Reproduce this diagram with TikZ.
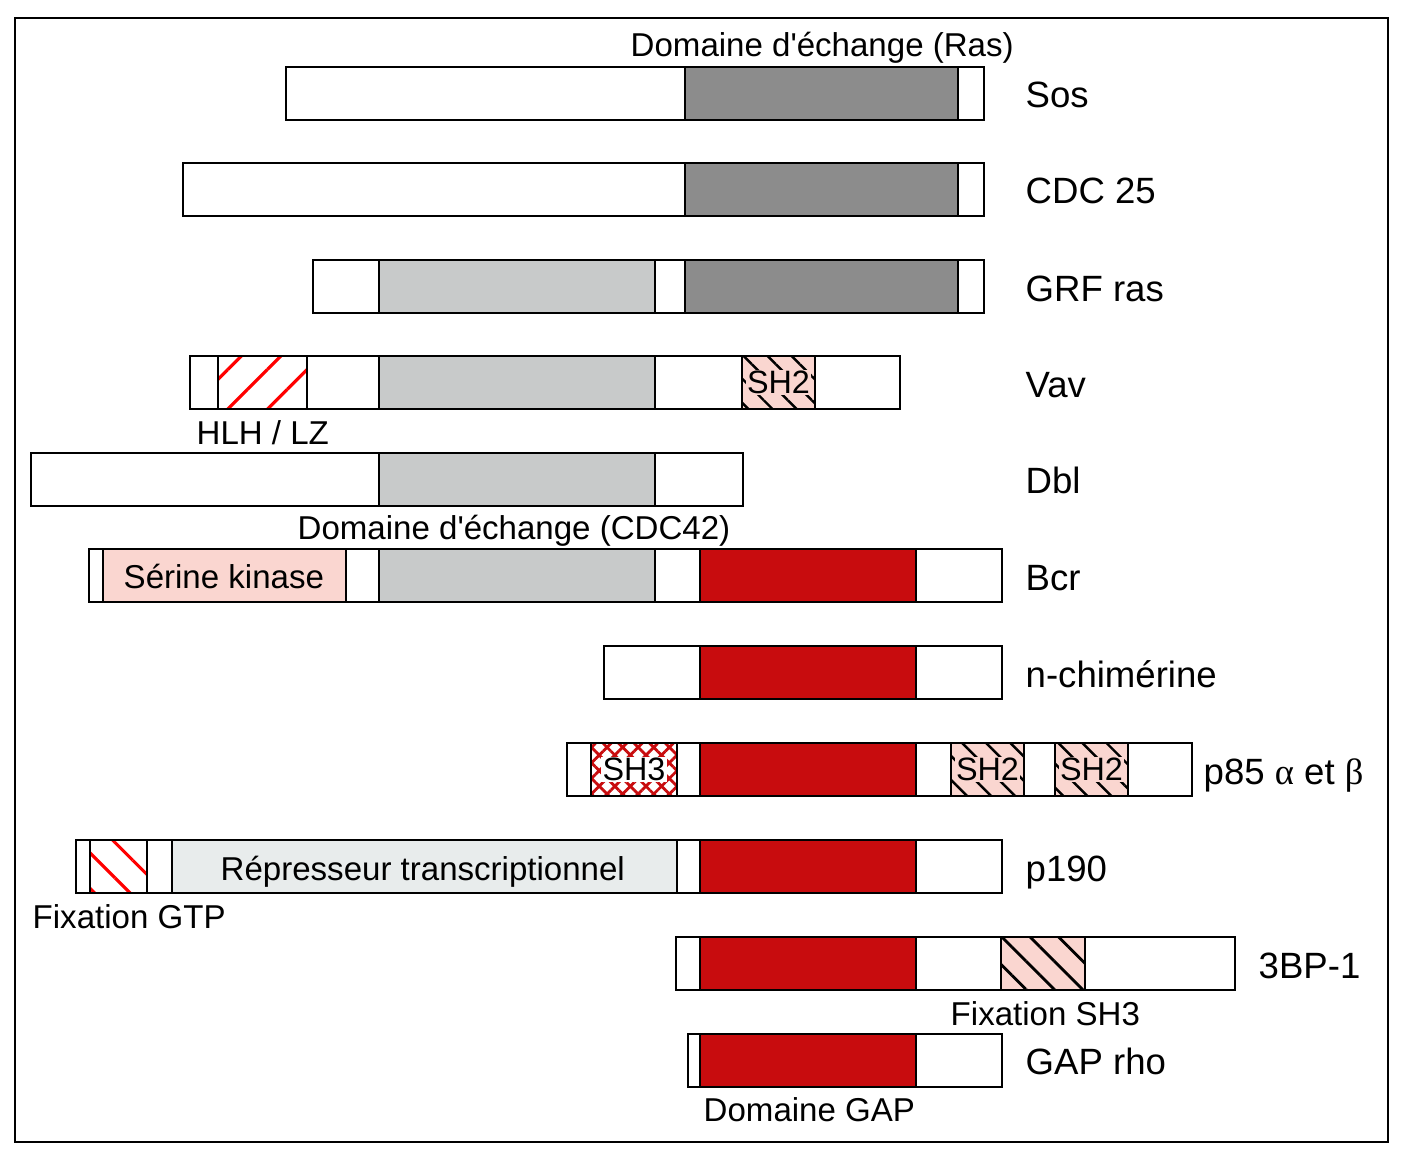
\documentclass[tikz,border=0pt]{standalone}
\usepackage{fontspec}
\setmainfont{Liberation Sans}[Ligatures=TeXOff]
\newfontfamily\greekfont{Liberation Serif}
\usetikzlibrary{patterns.meta,positioning}

\definecolor{gapred}{RGB}{200,12,14}
\definecolor{rasgray}{RGB}{140,140,140}
\definecolor{cdcgray}{RGB}{200,202,202}
\definecolor{replight}{RGB}{232,236,236}
\definecolor{kinpink}{RGB}{250,214,208}

\tikzset{
  seg/.style={draw, line width=0.75pt},
  prot/.style={font=\fontsize{10.4}{12}\selectfont, anchor=base west, inner sep=0pt},
  dom/.style={font=\fontsize{9.4}{11}\selectfont, anchor=base west, inner sep=0pt},
  shbox/.style={font=\fontsize{9.2}{11}\selectfont, inner sep=0.3pt},
  shlines/.style={fill=kinpink,postaction={pattern={Lines[angle=-45,distance=0.17cm,line width=0.7pt]},pattern color=black}},
}

\begin{document}
\begin{tikzpicture}[x=0.01cm,y=-0.01cm]

    \useasboundingbox (0,0) rectangle (1404,1152);
    \draw[line width=0.7pt] (15,18) rectangle (1388,1142);

    % Sos
    \draw[seg] (286,67) rectangle (685,120);
    \draw[seg,fill=rasgray] (685,67) rectangle (958,120);
    \draw[seg] (958,67) rectangle (984,120);
    \node[dom] (ras) at (630,57) {Domaine d'échange (Ras)};
    \node[prot] (sos) at (1025,108) {Sos};

    % CDC 25
    \draw[seg] (183,163) rectangle (685,216);
    \draw[seg,fill=rasgray] (685,163) rectangle (958,216);
    \draw[seg] (958,163) rectangle (984,216);
    \node[prot] (cdc) at (1025,204) {CDC 25};

    % GRF ras
    \draw[seg] (313,260) rectangle (379,313);
    \draw[seg,fill=cdcgray] (379,260) rectangle (655,313);
    \draw[seg] (655,260) rectangle (685,313);
    \draw[seg,fill=rasgray] (685,260) rectangle (958,313);
    \draw[seg] (958,260) rectangle (984,313);
    \node[prot] (grf) at (1025,301) {GRF ras};

    % Vav
    \draw[seg] (190,356) rectangle (218,409);
    \draw[seg,pattern={Lines[angle=45,distance=0.28cm,line width=0.9pt]},pattern color=red] (218,356) rectangle (307,409);
    \draw[seg] (307,356) rectangle (379,409);
    \draw[seg,fill=cdcgray] (379,356) rectangle (655,409);
    \draw[seg] (655,356) rectangle (742,409);
    \draw[seg,shlines] (742,356) rectangle (815,409);
    \node[shbox,fill=kinpink] (vavsh2) at (778.5,382.5) {SH2};
    \draw[seg] (742,356) rectangle (815,409);
    \draw[seg] (815,356) rectangle (900,409);
    \node[dom] (hlh) at (196,444) {HLH / LZ};
    \node[prot] (vav) at (1025,397) {Vav};

    % Dbl
    \draw[seg] (31,453) rectangle (379,506);
    \draw[seg,fill=cdcgray] (379,453) rectangle (655,506);
    \draw[seg] (655,453) rectangle (743,506);
    \node[dom] (cdc42) at (297,539) {Domaine d'échange (CDC42)};
    \node[prot] (dbl) at (1025,493) {Dbl};

    % Bcr
    \draw[seg] (89,549) rectangle (103,602);
    \draw[seg,fill=kinpink] (103,549) rectangle (346,602);
    \node[dom] (kinase) at (123,588) {Sérine kinase};
    \draw[seg] (346,549) rectangle (379,602);
    \draw[seg,fill=cdcgray] (379,549) rectangle (655,602);
    \draw[seg] (655,549) rectangle (700,602);
    \draw[seg,fill=gapred] (700,549) rectangle (916,602);
    \draw[seg] (916,549) rectangle (1002,602);
    \node[prot] (bcr) at (1025,590) {Bcr};

    % n-chimerine
    \draw[seg] (604,646) rectangle (700,699);
    \draw[seg,fill=gapred] (700,646) rectangle (916,699);
    \draw[seg] (916,646) rectangle (1002,699);
    \node[prot] (nchim) at (1025,687) {n-chimérine};

    % p85
    \draw[seg] (567,743) rectangle (591,796);
    \draw[seg,pattern={Hatch[angle=45,distance=0.11cm,line width=0.8pt]},pattern color=gapred] (591,743) rectangle (677,796);
    \node[shbox,fill=white] (sh3) at (634,769.5) {SH3};
    \draw[seg] (591,743) rectangle (677,796);
    \draw[seg] (677,743) rectangle (700,796);
    \draw[seg,fill=gapred] (700,743) rectangle (916,796);
    \draw[seg] (916,743) rectangle (951,796);
    \draw[seg,shlines] (951,743) rectangle (1024,796);
    \node[shbox,fill=kinpink] (psh2a) at (987.5,769.5) {SH2};
    \draw[seg] (951,743) rectangle (1024,796);
    \draw[seg] (1024,743) rectangle (1055,796);
    \draw[seg,shlines] (1055,743) rectangle (1128,796);
    \node[shbox,fill=kinpink] (psh2b) at (1091.5,769.5) {SH2};
    \draw[seg] (1055,743) rectangle (1128,796);
    \draw[seg] (1128,743) rectangle (1192,796);
    \node[prot] (p85) at (1203,784) {p85 {\greekfont α} et {\greekfont β}};

    % p190
    \draw[seg] (76,840) rectangle (90,893);
    \draw[seg,pattern={Lines[angle=-45,distance=0.25cm,line width=0.9pt]},pattern color=red] (90,840) rectangle (147,893);
    \draw[seg] (147,840) rectangle (172,893);
    \draw[seg,fill=replight] (172,840) rectangle (677,893);
    \node[dom] (repr) at (220,880) {Répresseur transcriptionnel};
    \draw[seg] (677,840) rectangle (700,893);
    \draw[seg,fill=gapred] (700,840) rectangle (916,893);
    \draw[seg] (916,840) rectangle (1002,893);
    \node[dom] (gtp) at (32,928) {Fixation GTP};
    \node[prot] (p190) at (1025,881) {p190};

    % 3BP-1
    \draw[seg] (676,937) rectangle (700,990);
    \draw[seg,fill=gapred] (700,937) rectangle (916,990);
    \draw[seg] (916,937) rectangle (1001,990);
    \draw[seg,fill=kinpink,postaction={pattern={Lines[angle=-45,distance=0.2cm,line width=0.8pt]},pattern color=black}] (1001,937) rectangle (1085,990);
    \draw[seg] (1085,937) rectangle (1235,990);
    \node[dom] (fsh3) at (950,1025) {Fixation SH3};
    \node[prot] (tbp) at (1258,978) {3BP-1};

    % GAP rho
    \draw[seg] (688,1034) rectangle (700,1087);
    \draw[seg,fill=gapred] (700,1034) rectangle (916,1087);
    \draw[seg] (916,1034) rectangle (1002,1087);
    \node[dom] (gap) at (703,1121) {Domaine GAP};
    \node[prot] (rho) at (1025,1074) {GAP rho};

\end{tikzpicture}
\end{document}
